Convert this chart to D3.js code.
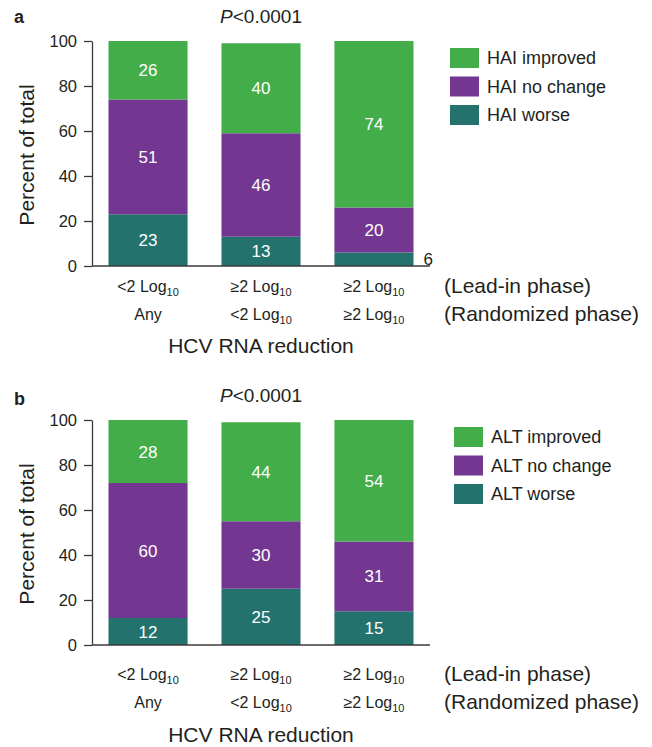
<!DOCTYPE html>
<html>
<head>
<meta charset="utf-8">
<script src="https://cdn.jsdelivr.net/npm/d3@7"></script>
<style>
  body { margin: 0; background: #fff; }
  svg { display: block; font-family: "Liberation Sans", Arial, sans-serif; }
</style>
</head>
<body>
<svg id="chart" width="652" height="747"></svg>
<script>
// Categories and phase labels
const categories = ["c1", "c2", "c3"];
const leadIn = ["<2", "\u22652", "\u22652"];
const randomized = ["Any", "<2", "\u22652"];
const yTicks = [0, 20, 40, 60, 80, 100];

// Panel a: HAI
const haiWorse = [23, 13, 6];
const haiNoChange = [51, 46, 20];
const haiImproved = [26, 40, 74];

// Panel b: ALT
const altWorse = [12, 25, 15];
const altNoChange = [60, 30, 31];
const altImproved = [28, 44, 54];

const color = { worse: "#23726d", nochange: "#733792", improved: "#43ad4a", text: "#231f20", axis: "#3a3a3a" };
const keys = ["worse", "nochange", "improved"];

const svg = d3.select("#chart");

function drawPanel(cfg) {
  const g = svg.append("g").attr("transform", `translate(0, ${cfg.top})`);

  const rows = categories.map((c, i) => ({
    cat: c,
    worse: cfg.worse[i],
    nochange: cfg.nochange[i],
    improved: cfg.improved[i]
  }));

  const x = d3.scaleBand()
    .domain(categories)
    .range([92, 430])
    .paddingInner(0.3)
    .paddingOuter(0.146);

  const y = d3.scaleLinear().domain([0, 100]).range([266, 41]);

  const stacked = d3.stack().keys(keys)(rows);

  // bars
  g.append("g")
    .selectAll("g")
    .data(stacked)
    .join("g")
    .attr("fill", (d) => color[d.key])
    .selectAll("rect")
    .data((d) => d)
    .join("rect")
    .attr("x", (d) => x(d.data.cat))
    .attr("width", x.bandwidth())
    .attr("y", (d) => y(d[1]))
    .attr("height", (d) => y(d[0]) - y(d[1]));

  // value labels, small segments get their label outside the bar
  stacked.forEach((layer) => {
    g.append("g")
      .selectAll("text")
      .data(layer)
      .join("text")
      .attr("x", (d) => (d[1] - d[0] < 10 ? x(d.data.cat) + x.bandwidth() + 10 : x(d.data.cat) + x.bandwidth() / 2))
      .attr("y", (d) => y((d[0] + d[1]) / 2))
      .attr("dy", "0.36em")
      .attr("text-anchor", (d) => (d[1] - d[0] < 10 ? "start" : "middle"))
      .attr("fill", (d) => (d[1] - d[0] < 10 ? color.text : "#fff"))
      .style("font-size", "17px")
      .text((d) => d[1] - d[0]);
  });

  // y axis
  g.append("g")
    .attr("transform", "translate(92,0)")
    .call(d3.axisLeft(y).tickValues(yTicks).tickSizeInner(8).tickSizeOuter(0).tickPadding(7))
    .call((a) => a.select(".domain").attr("stroke", color.axis).attr("stroke-width", 1.3))
    .call((a) => a.selectAll(".tick line").attr("stroke", color.axis).attr("stroke-width", 1.3))
    .call((a) => a.selectAll(".tick text")
      .attr("fill", color.text)
      .style("font-size", "16.5px")
      .style("font-family", "Liberation Sans, Arial, sans-serif"));

  // x axis baseline
  g.append("line")
    .attr("x1", 92).attr("x2", 430)
    .attr("y1", y(0)).attr("y2", y(0))
    .attr("stroke", color.axis)
    .attr("stroke-width", 1.3);

  // category labels (two rows)
  const off = cfg.labelShift;
  [leadIn, randomized].forEach((row, r) => {
    const t = g.append("g")
      .selectAll("text")
      .data(categories)
      .join("text")
      .attr("x", (d) => x(d) + x.bandwidth() / 2)
      .attr("y", 292 + off + r * 28)
      .attr("text-anchor", "middle")
      .attr("fill", color.text)
      .style("font-size", "16px");
    t.each(function (d, i) {
      const el = d3.select(this);
      const v = row[i];
      if (v === "Any") {
        el.text(v);
      } else {
        el.append("tspan").text(v + " Log");
        el.append("tspan").attr("dy", 4).style("font-size", "11px").text("10");
      }
    });
  });

  // phase labels
  ["(Lead-in phase)", "(Randomized phase)"].forEach((s, r) => {
    g.append("text")
      .attr("x", 444)
      .attr("y", 293 + off + r * 28)
      .attr("fill", color.text)
      .style("font-size", "21px")
      .text(s);
  });

  // x title
  g.append("text")
    .attr("x", 261)
    .attr("y", 353 + off + (cfg.titleShift || 0))
    .attr("text-anchor", "middle")
    .attr("fill", color.text)
    .style("font-size", "21px")
    .text("HCV RNA reduction");

  // y title
  g.append("text")
    .attr("transform", "translate(34,155) rotate(-90)")
    .attr("text-anchor", "middle")
    .attr("fill", color.text)
    .style("font-size", "21px")
    .text("Percent of total");

  // panel letter
  g.append("text")
    .attr("x", 14).attr("y", 23 + cfg.letterShift)
    .attr("fill", color.text)
    .style("font-size", "18px")
    .style("font-weight", "bold")
    .text(cfg.letter);

  // p value
  const p = g.append("text")
    .attr("x", 261).attr("y", 23)
    .attr("text-anchor", "middle")
    .attr("fill", color.text)
    .style("font-size", "19px");
  p.append("tspan").style("font-style", "italic").text("P");
  p.append("tspan").text("<0.0001");

  // legend
  const legend = g.append("g")
    .attr("transform", `translate(${cfg.legendX}, 48)`)
    .selectAll("g")
    .data(["improved", "nochange", "worse"])
    .join("g")
    .attr("transform", (d, i) => `translate(0, ${i * 28.5})`);

  legend.append("rect")
    .attr("width", 29).attr("height", 20)
    .attr("fill", (d) => color[d]);

  legend.append("text")
    .attr("x", 37).attr("y", 10)
    .attr("dy", "0.36em")
    .attr("fill", color.text)
    .style("font-size", "18px")
    .text((d, i) => cfg.names[i]);
}

drawPanel({
  top: 0, letter: "a", letterShift: 0, labelShift: 0, legendX: 450,
  worse: haiWorse, nochange: haiNoChange, improved: haiImproved,
  names: ["HAI improved", "HAI no change", "HAI worse"]
});

drawPanel({
  top: 379, letter: "b", letterShift: 3, labelShift: 9, titleShift: 1, legendX: 454,
  worse: altWorse, nochange: altNoChange, improved: altImproved,
  names: ["ALT improved", "ALT no change", "ALT worse"]
});
</script>
</body>
</html>
